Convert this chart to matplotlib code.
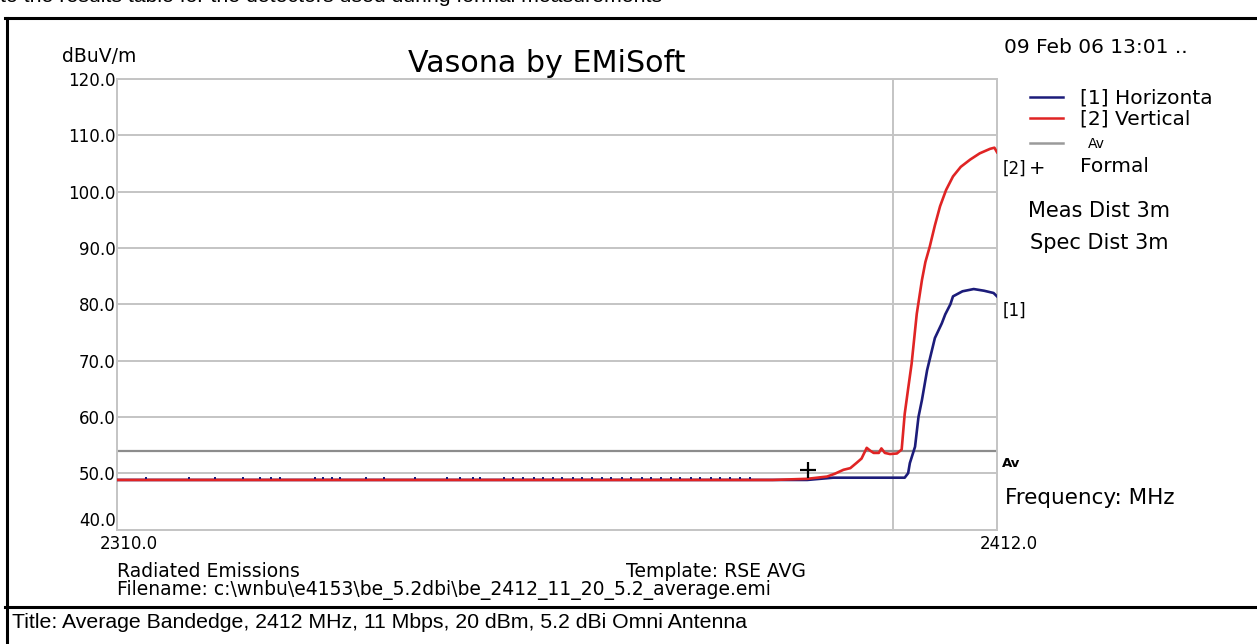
#!/usr/bin/env python3
"""
Vasona by EMiSoft - average bandedge plot, 2412 MHz, 11 Mbps, 20 dBm.
Recreated with matplotlib from the test report screenshot.
"""

import matplotlib
matplotlib.use('Agg')
import matplotlib.pyplot as plt
from matplotlib.lines import Line2D

# Axis ranges (MHz, dBuV/m)
freq_range = [2310.0, 2412.0]
level_range = [40.0, 120.0]
y_ticks = [40.0, 50.0, 60.0, 70.0, 80.0, 90.0, 100.0, 110.0, 120.0]
x_tick_labels = ['2310.0', '2412.0']

limit_av = 54.0        # average limit line
band_edge = 2400.0     # vertical marker line

# [1] Horizontal trace
horiz_freq = [2310.0, 2390.0, 2393.0, 2400.0, 2401.3, 2401.7, 2401.9, 2402.5,
              2402.9, 2403.3, 2403.9, 2404.8, 2405.6, 2406.0, 2406.6, 2406.9,
              2408.0, 2409.3, 2410.5, 2411.6, 2412.0]
horiz_level = [48.8, 48.8, 49.2, 49.2, 49.2, 50.0, 51.8, 54.7,
               60.0, 63.0, 68.3, 74.0, 76.6, 78.2, 80.0, 81.4,
               82.3, 82.7, 82.4, 82.0, 81.4]

# small horizontal peaks showing above the vertical trace on the noise floor
blip_freq = [2313.4, 2318.3, 2321.4, 2324.6, 2326.6, 2327.9, 2328.9, 2333.0,
             2333.9, 2334.9, 2335.8, 2338.9, 2340.9, 2344.5, 2348.2, 2349.8,
             2351.3, 2352.1, 2354.8, 2355.9, 2357.1, 2358.3, 2359.4, 2360.5,
             2361.6, 2362.8, 2363.9, 2365.0, 2366.2, 2367.3, 2368.5, 2369.6,
             2370.8, 2371.9, 2373.0, 2374.2, 2375.3, 2376.5, 2377.6, 2378.8,
             2379.9, 2381.1, 2382.2, 2383.4]
blip_level = 49.1

# [2] Vertical trace
vert_freq = [2310.0, 2386.0, 2390.0, 2392.3, 2393.2, 2394.2, 2395.0, 2395.7,
             2396.3, 2396.9, 2397.3, 2397.7, 2398.3, 2398.6, 2399.0, 2399.6,
             2400.4, 2400.95, 2401.3, 2401.7, 2402.1, 2402.7, 2403.3, 2403.7,
             2404.2, 2404.8, 2405.4, 2406.1, 2406.9, 2407.8, 2408.9, 2410.0,
             2411.2, 2411.7, 2412.0]
vert_level = [48.8, 48.8, 49.0, 49.4, 49.9, 50.6, 50.9, 51.8,
              52.6, 54.5, 54.0, 53.6, 53.6, 54.4, 53.6, 53.4,
              53.5, 54.2, 60.5, 65.0, 69.4, 78.3, 84.3, 87.5,
              90.2, 94.0, 97.4, 100.3, 102.7, 104.4, 105.7, 106.8,
              107.6, 107.8, 107.0]

# Formal measurement marker
formal_freq = [2390.1]
formal_level = [50.6]

W, H = 1257, 644
BLUE = '#1c1c7a'
RED = '#e02424'
GRID = '#c4c4c4'
CHART_FONT = 'DejaVu Sans'
PAGE_FONT = 'Liberation Sans'


def fx(x):
    return x / W


def fy(y):
    return 1 - y / H


def put(fig, x, y, s, size, ha='left', va='center', family=CHART_FONT, **kw):
    """Place text using pixel coordinates measured from the top-left corner."""
    fig.text(fx(x), fy(y), s, fontsize=size, ha=ha, va=va, family=family, **kw)


def main():
    fig = plt.figure(figsize=(W / 100, H / 100), dpi=100)
    fig.patch.set_facecolor('white')

    ax = fig.add_axes([fx(117), fy(529.5), (997 - 117) / W, (529.5 - 79) / H])
    ax.set_xlim(freq_range)
    ax.set_ylim(level_range)

    # Grid and frame
    for v in y_ticks:
        ax.axhline(v, color=GRID, lw=1.4, zorder=1)
    ax.axvline(band_edge, color=GRID, lw=1.4, zorder=1)
    ax.axhline(limit_av, color='#8c8c8c', lw=1.6, zorder=2)
    for sp in ax.spines.values():
        sp.set_color(GRID)
        sp.set_linewidth(1.4)

    # Traces
    ax.plot(horiz_freq, horiz_level, color=BLUE, lw=1.9, zorder=3)
    ax.plot(vert_freq, vert_level, color=RED, lw=1.9, zorder=4)
    ax.plot(blip_freq, [blip_level] * len(blip_freq), 's', color=BLUE,
            ms=1.8, mew=0, zorder=5)
    ax.plot(formal_freq, formal_level, '+', color='black', ms=11, mew=1.6,
            zorder=6)

    # Ticks
    ax.set_yticks(y_ticks)
    ax.set_yticklabels([f'{v:.1f}' for v in y_ticks], family=CHART_FONT,
                       fontsize=12)
    ax.tick_params(axis='y', length=0, pad=1)
    ax.get_yticklabels()[0].set_verticalalignment('bottom')
    ax.set_xticks([])
    for f, lab in zip(freq_range, x_tick_labels):
        ax.annotate(lab, xy=(f, 0), xycoords=('data', 'axes fraction'),
                    xytext=(-12.5, -10.5), textcoords='offset points',
                    ha='left', va='center', fontsize=12, family=CHART_FONT)

    # Header texts
    put(fig, 408, 63, 'Vasona by EMiSoft', 21.7)
    put(fig, 62, 56.5, 'dBuV/m', 13.5)
    put(fig, 1004, 47.5, '09 Feb 06 13:01 ..', 14.5)

    # Legend block
    for y, c in [(96.7, BLUE), (118.3, RED), (143.3, '#9a9a9a')]:
        fig.add_artist(Line2D([fx(1030), fx(1063)], [fy(y), fy(y)], color=c,
                              lw=1.8))
    put(fig, 1080, 97.5, '[1] Horizonta', 14.5)
    put(fig, 1080, 119, '[2] Vertical', 14.5)
    put(fig, 1088, 143.5, 'Av', 10)
    put(fig, 1080, 166, 'Formal', 14.5)
    put(fig, 1037, 169, '+', 14, ha='center')
    put(fig, 1003, 169, '[2]', 12)
    put(fig, 1028, 211, 'Meas Dist 3m', 15)
    put(fig, 1030, 243, 'Spec Dist 3m', 15)
    put(fig, 1003, 311, '[1]', 12)
    put(fig, 1002, 463.5, 'Av', 9.5, weight='bold')
    put(fig, 1005, 497.5, 'Frequency: MHz', 15.5)

    # Footer texts inside the chart box
    put(fig, 117, 571.5, 'Radiated Emissions', 13.5)
    put(fig, 626, 571.5, 'Template: RSE AVG', 13.5)
    put(fig, 117, 589.5,
        'Filename: c:\\wnbu\\e4153\\be_5.2dbi\\be_2412_11_20_5.2_average.emi', 13.5)

    # Report page texts
    put(fig, 0, 1.5, 'to the results table for the detectors used during formal measurements',
        15.3, va='baseline', family=PAGE_FONT)
    put(fig, 12, 622,
        'Title: Average Bandedge, 2412 MHz, 11 Mbps, 20 dBm, 5.2 dBi Omni Antenna',
        15.3, family=PAGE_FONT)

    # Table borders
    fig.add_artist(Line2D([fx(5), fx(1257)], [fy(18), fy(18)], color='black', lw=2.2))
    fig.add_artist(Line2D([fx(5), fx(1257)], [fy(607), fy(607)], color='black', lw=2.2))
    fig.add_artist(Line2D([fx(7), fx(7)], [fy(18), fy(644)], color='black', lw=2.2))

    fig.savefig('out.png', dpi=100)
    plt.close(fig)


if __name__ == '__main__':
    main()
